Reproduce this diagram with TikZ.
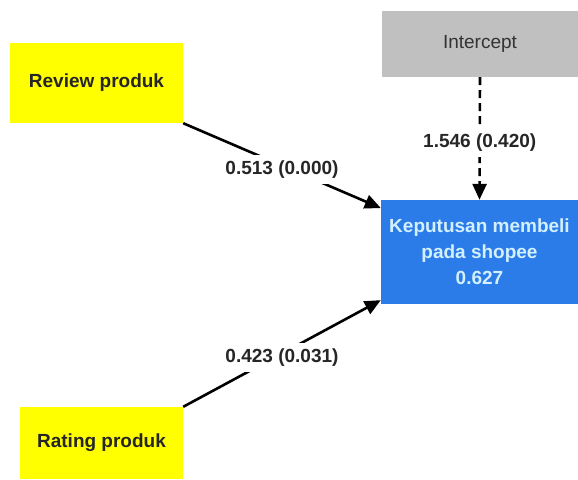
\documentclass[tikz,border=0pt]{standalone}
\usepackage{fontspec}
\setmainfont{Liberation Sans}
\usetikzlibrary{arrows.meta}
\definecolor{boxyellow}{HTML}{FFFF00}
\definecolor{boxgray}{HTML}{C0C0C0}
\definecolor{boxblue}{HTML}{2B7BE8}
\definecolor{lightcyan}{HTML}{D2F0FF}
\tikzset{
  var/.style={
    font=\fontsize{19}{26}\selectfont\bfseries,
    fill=boxyellow,
    text=black!85,
    inner sep=0pt,
  },
  icept/.style={
    font=\fontsize{19}{26}\selectfont,
    fill=boxgray,
    text=black!80,
    inner sep=0pt,
  },
  target/.style={
    font=\fontsize{19}{26}\selectfont\bfseries,
    fill=boxblue,
    text=lightcyan,
    align=center,
    inner sep=0pt,
  },
  path/.style={
    -{Triangle[length=16pt,width=14pt]},
    line width=2.6pt,
  },
  icpath/.style={
    path,
    dash pattern=on 8pt off 5pt,
  },
  coef/.style={
    font=\fontsize{19}{26}\selectfont\bfseries,
    text=black!85,
    fill=white,
    inner xsep=4pt,
    inner ysep=6pt,
    yshift=-4pt,
  },
}
\begin{document}
\begin{tikzpicture}[x=1pt,y=-1pt]
  \useasboundingbox (0,0) rectangle (578,479);

  % nodes
  \node[var, minimum width=173pt, minimum height=80pt] (review) at (96.5,83) {Review produk};
  \node[var, minimum width=163pt, minimum height=72pt] (rating) at (101.5,443) {Rating produk};
  \node[icept, minimum width=196pt, minimum height=66pt] (icept) at (480,44) {Intercept};
  \node[target, minimum width=197pt, minimum height=104pt] (kep) at (479.5,252)
    {Keputusan membeli\\pada shopee\\0.627};

  % edges
  \draw[path] (review.south east) -- (kep.156)
    node[coef, midway] (c1) {0.513 (0.000)};
  \draw[path] (rating.north east) -- (kep.206)
    node[coef, midway] (c2) {0.423 (0.031)};
  \draw[icpath] (icept.south) -- (kep.north)
    node[coef, midway] (c3) {1.546 (0.420)};
\end{tikzpicture}
\end{document}
